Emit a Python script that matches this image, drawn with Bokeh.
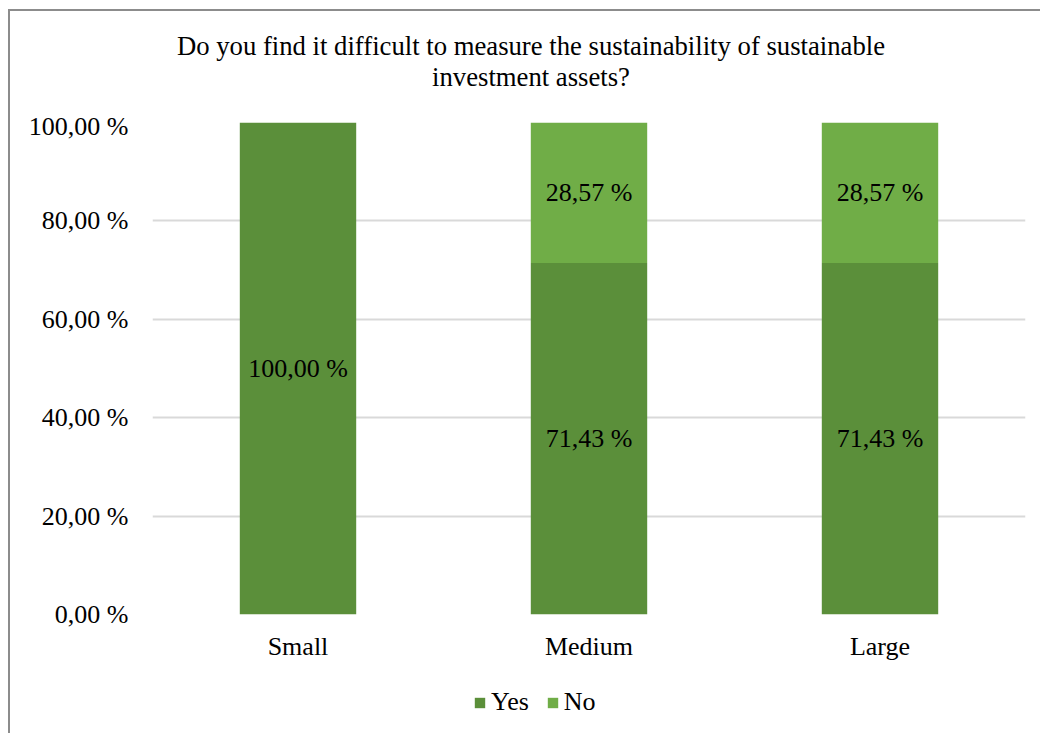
from bokeh.plotting import figure
from bokeh.layouts import column
from bokeh.models import (ColumnDataSource, FactorRange, Range1d, FixedTicker,
                          CustomJSTickFormatter, Legend, LegendItem, Div)
from bokeh.core.properties import value
from bokeh.embed import file_html
from bokeh.resources import INLINE

# Survey answers by company size (share of respondents, %)
categories = ["Small", "Medium", "Large"]
yes_share = [100.00, 71.43, 71.43]
no_share = [0.00, 28.57, 28.57]
series = ["Yes", "No"]
y_ticks = [0, 20, 40, 60, 80, 100]
title_lines = ["Do you find it difficult to measure the sustainability of sustainable",
               "investment assets?"]

DARK = "#5B8F3A"
LIGHT = "#70AD47"
FONT = "Liberation Serif"
FS = "26px"


def pct(v):
    return f"{v:.2f}".replace(".", ",") + " %"


src = ColumnDataSource(dict(cat=categories, Yes=yes_share, No=no_share))

# ---- main stacked-bar plot ----
p = figure(x_range=FactorRange(*categories, range_padding=0),
           y_range=Range1d(0, 100),
           width=1030, height=561,
           output_backend="svg", toolbar_location=None,
           min_border_left=142, min_border_right=15,
           min_border_top=11, min_border_bottom=58)
p.outline_line_color = None
p.border_fill_color = "white"

p.vbar_stack(series, x="cat", width=0.4, source=src,
             color=[DARK, LIGHT], line_color=None)

# value labels, centred in each stacked segment
lx, ly, lt = [], [], []
for c, y, n in zip(categories, yes_share, no_share):
    if y > 0:
        lx.append(c); ly.append(y / 2); lt.append(pct(y))
    if n > 0:
        lx.append(c); ly.append(y + n / 2); lt.append(pct(n))
p.text(x=lx, y=ly, text=lt, text_align="center", text_baseline="middle",
       text_font=value(FONT), text_font_size=FS, text_color="#000000")

p.yaxis.ticker = FixedTicker(ticks=y_ticks)
p.yaxis.formatter = CustomJSTickFormatter(
    code="return tick.toFixed(2).replace('.', ',') + ' %';")
for ax in (p.xaxis[0], p.yaxis[0]):
    ax.axis_line_color = None
    ax.major_tick_line_color = None
    ax.minor_tick_line_color = None
    ax.major_tick_out = 0
    ax.major_tick_in = 0
    ax.minor_tick_out = 0
    ax.major_label_text_font = FONT
    ax.major_label_text_font_size = FS
    ax.major_label_text_color = "#000000"
p.yaxis.major_label_standoff = 24
p.xaxis.major_label_standoff = 17

p.xgrid.grid_line_color = None
p.ygrid.grid_line_color = "#d9d9d9"
p.ygrid.grid_line_width = 2

# ---- legend strip (frame aligns with the plot above) ----
lg = figure(width=1030, height=61, x_range=Range1d(0, 1), y_range=Range1d(0, 1),
            output_backend="svg", toolbar_location=None,
            x_axis_location=None, y_axis_location=None,
            min_border=0, outline_line_color=None)
lg.grid.grid_line_color = None
# zero-height bars: they only supply the legend swatches
swatches = [lg.vbar(x=[0.5], top=[0], width=0, color=c, line_color=None)
            for c in (DARK, LIGHT)]
legend = Legend(items=[LegendItem(label=s, renderers=[r])
                       for s, r in zip(series, swatches)],
                orientation="horizontal", location=(321, 16),
                glyph_width=13, glyph_height=13, label_standoff=5, spacing=17,
                padding=0, margin=0, border_line_color=None,
                background_fill_alpha=0,
                label_text_font=FONT, label_text_font_size=FS,
                label_text_color="#000000")
lg.add_layout(legend, "center")

# ---- two-line chart title ----
title = Div(
    text=('<div style="margin-left:12px;width:1018px;padding-top:20px;'
          'text-align:center;font-family:\'Liberation Serif\',serif;font-size:26.7px;'
          'line-height:31px;color:#000;">' + "<br>".join(title_lines) + '</div>'),
    width=1030, height=100, margin=0,
    styles={"font-family": "'Liberation Serif', serif"})

page = column(title, p, lg, spacing=0,
              styles={"margin-left": "8px", "margin-top": "9px",
                      "border-left": "2px solid #8c8c8c",
                      "border-top": "2px solid #8c8c8c",
                      "background-color": "white"})

open("out.html", "w").write(file_html(page, INLINE))
